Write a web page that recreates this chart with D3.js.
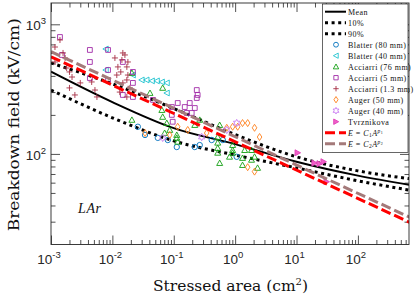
<!DOCTYPE html>
<html>
<head>
<meta charset="utf-8">
<script src="https://cdn.jsdelivr.net/npm/d3@7"></script>
<style>
  body { margin: 0; background: #fff; }
  svg { display: block; }
</style>
</head>
<body>
<div id="viz"></div>
<script>
// axis extents and tick labels
const xDomain = [1e-3, 680];
const yDomain = [20, 1460];
const xMajor = [1e-3, 1e-2, 1e-1, 1e0, 1e1, 1e2];
const xMajorExp = ['-3', '-2', '-1', '0', '1', '2'];
const yMajor = [1e2, 1e3];
const yMajorExp = ['2', '3'];

// statistical curves, read at each decade of area
const curveArea = [1e-3, 1e-2, 1e-1, 1e0, 1e1, 1e2, 1e3];
const meanField = [431, 251, 158, 119, 87, 68, 56];
const p10Field = [311, 190, 126, 98, 78, 62, 51];
const p90Field = [503, 347, 224, 141, 95, 74, 63];

// power-law fits, end points
const powerArea = [1e-3, 1e3];
const power1Field = [562, 27.4];
const power2Field = [615, 30];

// measurements: [stressed area (cm2), breakdown field (kV/cm)]
const blatter80 = [[0.026, 162], [0.034, 140], [0.055, 133], [0.080, 128], [0.112, 113],
  [0.22, 113], [0.265, 117], [0.415, 128], [0.63, 128], [1.06, 95]];
const blatter40 = [[7.8e-3, 645], [7.8e-3, 444], [0.0216, 406], [0.030, 372], [0.036, 372],
  [0.044, 366], [0.053, 366], [0.064, 359], [0.077, 353], [0.077, 295]];
const acciarri76 = [[0.0208, 421], [0.0208, 183], [0.041, 295], [0.066, 323], [0.064, 218],
  [0.066, 193], [0.077, 173], [0.086, 153], [0.071, 145], [0.112, 140], [0.112, 133],
  [0.116, 124], [0.22, 167], [0.265, 183], [0.56, 167], [0.52, 135], [0.52, 122], [0.52, 111],
  [0.52, 102], [0.56, 85], [0.81, 95], [0.91, 102], [0.91, 117], [0.91, 107], [1.32, 93],
  [1.32, 82], [1.43, 107], [1.85, 90], [2.07, 95], [2.32, 78], [1.85, 107]];
const acciarri5 = [[1.4e-3, 798], [1.51e-3, 580], [4.3e-3, 634], [4.3e-3, 512], [4.3e-3, 385],
  [8.5e-3, 634], [8.5e-3, 444], [8.5e-3, 372], [0.0148, 512], [0.0216, 429], [0.0216, 353],
  [0.0216, 275], [0.0148, 285], [0.046, 261], [0.093, 230], [0.116, 247], [0.151, 230],
  [0.182, 247], [0.22, 226], [0.196, 207], [0.163, 207], [0.237, 311], [0.245, 285],
  [0.237, 270], [0.093, 200], [0.096, 177]];
const acciarri13 = [[1.16e-3, 668], [1.4e-3, 757], [1.57e-3, 601], [1.16e-3, 512], [1.7e-3, 550],
  [1.8e-3, 460], [2.0e-3, 429], [2.2e-3, 392], [2.0e-3, 323], [2.45e-3, 285], [3.0e-3, 353],
  [4.6e-3, 359], [5.2e-3, 311], [5.6e-3, 275], [0.011, 550], [0.0123, 469], [0.0143, 531],
  [0.016, 580], [0.0172, 469], [0.0179, 406], [0.0118, 406], [0.0148, 353], [0.0132, 300],
  [0.0172, 275], [0.0193, 323], [0.0148, 601], [0.0179, 512], [0.0172, 372], [0.0137, 429]];
const auger50 = [[0.034, 145], [0.086, 140], [0.116, 162], [0.169, 153], [0.344, 145],
  [0.73, 159], [0.91, 162], [1.1, 162], [1.32, 173], [1.6, 173], [2.07, 159], [2.5, 135],
  [1.6, 79], [2.07, 73]];
const auger40 = [[0.066, 133], [0.285, 135], [0.73, 153], [1.06, 173]];
const tvrznikova = [[10.4, 102], [19.6, 85], [23.7, 84], [27.5, 87], [30.8, 61]];

const W = 415, H = 297;
const plot = {left: 51, right: 409, top: 3, bottom: 244.5};

const svg = d3.select('#viz').append('svg')
  .attr('width', W).attr('height', H)
  .attr('role', 'img')
  .attr('aria-label', 'Breakdown field versus stressed area in liquid argon');

const x = d3.scaleLog().domain(xDomain).range([plot.left, plot.right]);
const y = d3.scaleLog().domain(yDomain).range([plot.bottom, plot.top]);

svg.append('clipPath').attr('id', 'clip')
  .append('rect')
  .attr('x', plot.left).attr('y', plot.top)
  .attr('width', plot.right - plot.left).attr('height', plot.bottom - plot.top);

// minor ticks per decade
function minorTicks(domain) {
  const out = [];
  for (let e = Math.floor(Math.log10(domain[0])); e <= Math.ceil(Math.log10(domain[1])); e++) {
    for (let k = 2; k <= 9; k++) {
      const v = k * Math.pow(10, e);
      if (v > domain[0] && v < domain[1]) out.push(v);
    }
  }
  return out;
}

const axisColor = '#262626';
const majorLen = 9, minorLen = 4.5;

function drawAxis(axisFn, scale, values, len, transform) {
  const g = svg.append('g').attr('transform', transform)
    .call(axisFn(scale).tickValues(values).tickSize(-len).tickFormat(''));
  g.select('.domain').remove();
  g.selectAll('line').attr('stroke', axisColor).attr('stroke-width', 0.8);
}

const xMinor = minorTicks(xDomain);
const yMinor = minorTicks(yDomain);
drawAxis(d3.axisBottom, x, xMinor, minorLen, `translate(0,${plot.bottom})`);
drawAxis(d3.axisBottom, x, xMajor, majorLen, `translate(0,${plot.bottom})`);
drawAxis(d3.axisTop, x, xMinor, minorLen, `translate(0,${plot.top})`);
drawAxis(d3.axisTop, x, xMajor, majorLen, `translate(0,${plot.top})`);
drawAxis(d3.axisLeft, y, yMinor, minorLen, `translate(${plot.left},0)`);
drawAxis(d3.axisLeft, y, yMajor, majorLen, `translate(${plot.left},0)`);
drawAxis(d3.axisRight, y, yMinor, minorLen, `translate(${plot.right},0)`);
drawAxis(d3.axisRight, y, yMajor, majorLen, `translate(${plot.right},0)`);

// tick labels 10^n
const tickFont = '"Liberation Sans", Arial, sans-serif';
xMajor.forEach((v, i) => {
  const t = svg.append('text')
    .attr('x', x(v) - 2).attr('y', 264)
    .attr('text-anchor', 'middle')
    .attr('font-family', tickFont).attr('font-size', 13.5).attr('fill', '#262626');
  t.append('tspan').text('10');
  t.append('tspan').attr('dy', -6).attr('font-size', 9.5).text(xMajorExp[i]);
});
yMajor.forEach((v, i) => {
  const t = svg.append('text')
    .attr('x', 46).attr('y', y(v) + 6)
    .attr('text-anchor', 'end')
    .attr('font-family', tickFont).attr('font-size', 13.5).attr('fill', '#262626');
  t.append('tspan').text('10');
  t.append('tspan').attr('dy', -6).attr('font-size', 9.5).text(yMajorExp[i]);
});

// axis titles (Computer Modern in the original, DejaVu Serif has a similar width)
const serif = '"Liberation Serif", "DejaVu Serif", serif';
const wideSerif = '"DejaVu Serif", "Liberation Serif", serif';
const xt = svg.append('text')
  .attr('x', (plot.left + plot.right) / 2 + 0.5).attr('y', 291)
  .attr('text-anchor', 'middle')
  .attr('font-family', wideSerif).attr('font-size', 15.5).attr('fill', '#111')
  .attr('textLength', 155).attr('lengthAdjust', 'spacingAndGlyphs');
xt.append('tspan').text('Stressed area (cm');
xt.append('tspan').attr('dy', -6).attr('font-size', 10).text('2');
xt.append('tspan').attr('dy', 6).text(')');

svg.append('text')
  .attr('transform', `translate(19,${(plot.top + plot.bottom) / 2 + 1}) rotate(-90)`)
  .attr('text-anchor', 'middle')
  .attr('font-family', wideSerif).attr('font-size', 15.5).attr('fill', '#111')
  .attr('textLength', 213).attr('lengthAdjust', 'spacingAndGlyphs')
  .text('Breakdown field (kV/cm)');

svg.append('text')
  .attr('x', 78).attr('y', 213)
  .attr('font-family', serif).attr('font-style', 'italic')
  .attr('font-size', 14).attr('fill', '#111')
  .attr('letter-spacing', 0.6)
  .text('LAr');

// marker shapes
const markers = {
  circle: s => `M${s},0A${s},${s} 0 1,1 ${-s},0A${s},${s} 0 1,1 ${s},0Z`,
  left: s => `M${-s},0L${s * 0.85},${-s}L${s * 0.85},${s}Z`,
  right: s => `M${s},0L${-s * 0.85},${-s}L${-s * 0.85},${s}Z`,
  up: s => `M0,${-s}L${s},${s * 0.8}L${-s},${s * 0.8}Z`,
  square: s => `M${-s},${-s}H${s}V${s}H${-s}Z`,
  plus: s => `M${-s},0H${s}M0,${-s}V${s}`,
  diamond: s => `M0,${-s * 1.3}L${s * 0.85},0L0,${s * 1.3}L${-s * 0.85},0Z`,
  star: s => {
    let p = '';
    for (let i = 0; i < 12; i++) {
      const r = i % 2 ? s * 0.55 : s;
      const a = Math.PI / 6 * i - Math.PI / 2;
      p += (i ? 'L' : 'M') + (r * Math.cos(a)).toFixed(2) + ',' + (r * Math.sin(a)).toFixed(2);
    }
    return p + 'Z';
  }
};

const series = [
  {name: 'Blatter (80 mm)', data: blatter80, shape: 'circle', size: 2.7, color: '#0072BD', fill: 'none'},
  {name: 'Blatter (40 mm)', data: blatter40, shape: 'left', size: 2.9, color: '#1FC3CF', fill: 'none'},
  {name: 'Acciarri (76 mm)', data: acciarri76, shape: 'up', size: 3, color: '#14A014', fill: 'none'},
  {name: 'Acciarri (5 mm)', data: acciarri5, shape: 'square', size: 2.4, color: '#A22BA8', fill: 'none'},
  {name: 'Acciarri (1.3 mm)', data: acciarri13, shape: 'plus', size: 3, color: '#A62F45', fill: 'none'},
  {name: 'Auger (50 mm)', data: auger50, shape: 'diamond', size: 2.7, color: '#FF7F1A', fill: 'none'},
  {name: 'Auger (40 mm)', data: auger40, shape: 'star', size: 3.7, color: '#C97CF2', fill: 'none'},
  {name: 'Tvrznikova', data: tvrznikova, shape: 'right', size: 3, color: '#E040B8', fill: '#F060C8'}
];

const plotArea = svg.append('g').attr('clip-path', 'url(#clip)');
const line = d3.line().x(d => x(d[0])).y(d => y(d[1])).curve(d3.curveMonotoneX);

const styles = {
  mean: {stroke: '#000', width: 2, dash: null},
  dotted: {stroke: '#000', width: 3, dash: '3,3.6'},
  red: {stroke: '#FF0000', width: 3, dash: '10,4'},
  brown: {stroke: '#A47A7A', width: 3, dash: '10,4'}
};

function drawCurve(areas, fields, st) {
  plotArea.append('path')
    .datum(areas.map((a, i) => [a, fields[i]]))
    .attr('d', line)
    .attr('fill', 'none')
    .attr('stroke', st.stroke)
    .attr('stroke-width', st.width)
    .attr('stroke-dasharray', st.dash);
}

drawCurve(curveArea, meanField, styles.mean);
drawCurve(curveArea, p10Field, styles.dotted);
drawCurve(curveArea, p90Field, styles.dotted);

series.forEach(s => {
  plotArea.append('g').selectAll('path')
    .data(s.data)
    .join('path')
    .attr('transform', d => `translate(${x(d[0])},${y(d[1])})`)
    .attr('d', markers[s.shape](s.size))
    .attr('fill', s.fill)
    .attr('stroke', s.color)
    .attr('stroke-width', 0.9);
});

drawCurve(powerArea, power1Field, styles.red);
drawCurve(powerArea, power2Field, styles.brown);

// frame
svg.append('rect')
  .attr('x', plot.left).attr('y', plot.top)
  .attr('width', plot.right - plot.left).attr('height', plot.bottom - plot.top)
  .attr('fill', 'none').attr('stroke', axisColor).attr('stroke-width', 0.9);

// legend
const lg = svg.append('g');
const lx = 322.5, ly = 4, lw = 85.5, lh = 148.5, rowH = 11, row0 = 11.7;
lg.append('rect')
  .attr('x', lx).attr('y', ly).attr('width', lw).attr('height', lh)
  .attr('fill', '#fff').attr('stroke', axisColor).attr('stroke-width', 0.7);

const legendRows = [
  {label: 'Mean', line: styles.mean},
  {label: '10%', line: styles.dotted},
  {label: '90%', line: styles.dotted},
  ...series.map(s => ({label: s.name, marker: s})),
  {label: 'p1', line: styles.red, idx: '1'},
  {label: 'p2', line: styles.brown, idx: '2'}
];

legendRows.forEach((r, i) => {
  const cy = row0 + i * rowH;
  if (r.line) {
    lg.append('line')
      .attr('x1', 325).attr('x2', 346).attr('y1', cy).attr('y2', cy)
      .attr('stroke', r.line.stroke).attr('stroke-width', r.line.width)
      .attr('stroke-dasharray', r.line.dash);
  } else {
    lg.append('path')
      .attr('transform', `translate(336,${cy})`)
      .attr('d', markers[r.marker.shape](r.marker.size * 0.9))
      .attr('fill', r.marker.fill).attr('stroke', r.marker.color).attr('stroke-width', 0.9);
  }
  const t = lg.append('text')
    .attr('x', 348).attr('y', cy + 2.8)
    .attr('font-family', serif).attr('font-size', 8).attr('fill', '#111')
    .attr('letter-spacing', 0.45);
  if (r.idx) {
    t.append('tspan').attr('font-style', 'italic').text('E');
    t.append('tspan').text(' = ');
    t.append('tspan').attr('font-style', 'italic').text('C');
    t.append('tspan').attr('dy', 1.5).attr('font-size', 5.5).text(r.idx);
    t.append('tspan').attr('dy', -1.5).attr('font-style', 'italic').text('A');
    t.append('tspan').attr('dy', -3).attr('font-size', 5.5).attr('font-style', 'italic').text('p');
    t.append('tspan').attr('dy', 1).attr('font-size', 4).text(r.idx);
  } else {
    t.text(r.label);
  }
});
</script>
</body>
</html>
